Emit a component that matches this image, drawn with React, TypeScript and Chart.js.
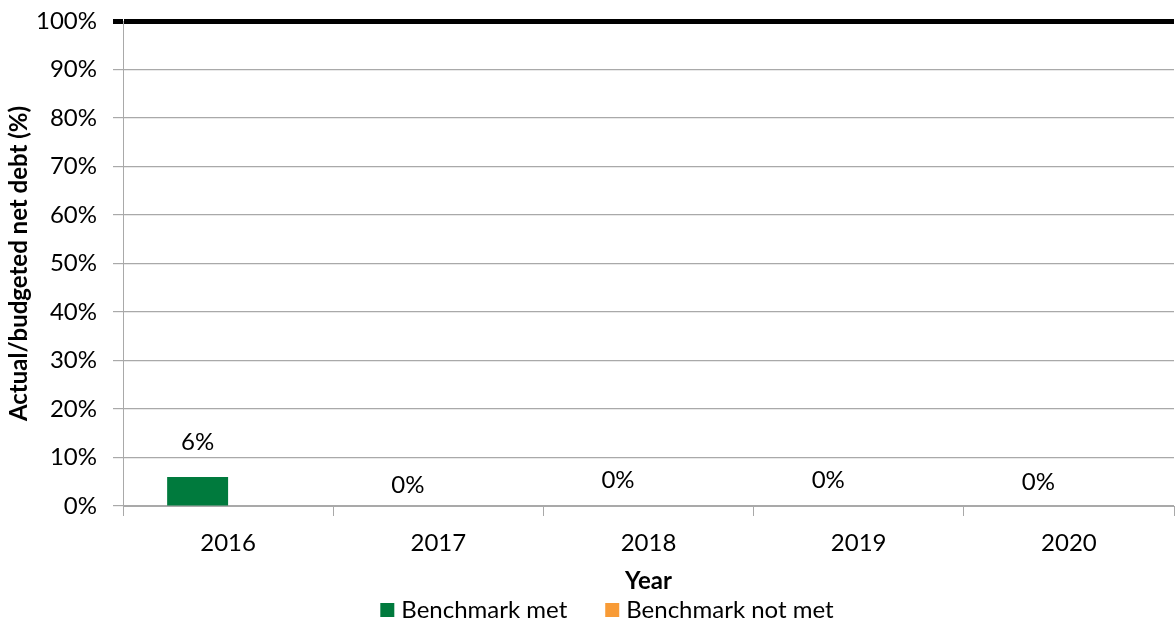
import React, { useEffect, useRef } from "react";
import { Chart, registerables } from "chart.js";

Chart.register(...registerables);

// Reporting years on the category axis
const years = ["2016", "2017", "2018", "2019", "2020"];
// Actual/budgeted net debt (%) by year, split by whether the benchmark was met
const benchmarkMet = [6, 0, 0, 0, 0];
const benchmarkNotMet: (number | null)[] = [null, null, null, null, null];
// Benchmark threshold drawn as the heavy rule across the top
const benchmarkLevel = 100;

const FONT = "Lato, 'Open Sans', sans-serif";
const GRID = "#a9a9a9";
const TEXT_SIZE = 24;

// Draws the value labels above the "Benchmark met" bars
const valueLabels = {
  id: "valueLabels",
  afterDatasetsDraw(chart: any, _args: any, opts: any) {
    const { ctx } = chart;
    const meta = chart.getDatasetMeta(0);
    const lifts: number[] = opts.lifts || [];
    ctx.save();
    ctx.font = `${TEXT_SIZE}px ${FONT}`;
    ctx.fillStyle = "#000";
    ctx.textAlign = "center";
    ctx.textBaseline = "middle";
    meta.data.forEach((bar: any, i: number) => {
      const v = benchmarkMet[i];
      if (v === null || v === undefined) return;
      ctx.fillText(`${v}%`, bar.x, bar.y - (lifts[i] ?? 26));
    });
    ctx.restore();
  },
};

// Compact legend row drawn under the axis title
const bottomLegend = {
  id: "bottomLegend",
  afterDraw(chart: any, _args: any, opts: any) {
    const { ctx } = chart;
    const box = 14;
    const boxGap = 7;
    const itemGap = opts.itemGap ?? 40;
    ctx.save();
    ctx.font = `${TEXT_SIZE}px ${FONT}`;
    ctx.textBaseline = "middle";
    ctx.textAlign = "left";
    const items = chart.data.datasets.map((d: any) => ({
      text: d.label as string,
      color: d.backgroundColor as string,
      w: ctx.measureText(d.label).width,
    }));
    const total =
      items.reduce((s: number, it: any) => s + box + boxGap + it.w, 0) + itemGap * (items.length - 1);
    let x = chart.width / 2 + (opts.shift ?? 0) - total / 2;
    const y = chart.height - (opts.fromBottom ?? 13);
    items.forEach((it: any) => {
      ctx.fillStyle = it.color;
      ctx.fillRect(x, y - box / 2, box, box);
      x += box + boxGap;
      ctx.fillStyle = "#000";
      ctx.fillText(it.text, x, y);
      x += it.w + itemGap;
    });
    ctx.restore();
  },
};

export default function App() {
  const ref = useRef<HTMLCanvasElement | null>(null);

  useEffect(() => {
    document.body.style.margin = "0";
    if (!ref.current) return;
    const chart = new Chart(ref.current, {
      type: "bar",
      data: {
        labels: years,
        datasets: [
          {
            label: "Benchmark met",
            data: benchmarkMet,
            backgroundColor: "#007a3d",
            borderWidth: 0,
            barPercentage: 1,
            categoryPercentage: 0.58,
          },
          {
            label: "Benchmark not met",
            data: benchmarkNotMet,
            backgroundColor: "#f89b36",
            borderWidth: 0,
            barPercentage: 1,
            categoryPercentage: 0.58,
          },
        ],
      },
      plugins: [valueLabels, bottomLegend],
      options: {
        animation: false,
        responsive: true,
        maintainAspectRatio: false,
        layout: { padding: { left: 0, right: 2, top: 21, bottom: 30 } },
        plugins: {
          tooltip: { enabled: false },
          legend: { display: false },
          valueLabels: { lifts: [35, 21, 26, 26, 24] },
          bottomLegend: { itemGap: 38, shift: 19, fromBottom: 13 },
        } as any,
        scales: {
          x: {
            grid: {
              offset: true,
              drawOnChartArea: false,
              drawTicks: true,
              tickLength: 10,
              color: GRID,
            },
            border: { color: GRID, width: 1 },
            ticks: {
              font: { family: FONT, size: TEXT_SIZE },
              color: "#000",
              padding: 13,
            },
            title: {
              display: true,
              text: "Year",
              font: { family: FONT, size: TEXT_SIZE, weight: "bold" },
              color: "#000",
              padding: { top: 4, bottom: -3 },
            },
            afterFit(scale: any) {
              scale.height = 87;
              scale.paddingLeft = 0;
              scale.paddingRight = 0;
            },
          },
          y: {
            min: 0,
            max: 100,
            grid: {
              drawTicks: true,
              tickLength: 10,
              color: (c: any) => (c.tick && c.tick.value === benchmarkLevel ? "#000" : GRID),
              lineWidth: (c: any) => (c.tick && c.tick.value === benchmarkLevel ? 5 : 1.2),
            },
            border: { color: GRID, width: 1 },
            ticks: {
              stepSize: 10,
              font: { family: FONT, size: TEXT_SIZE },
              color: "#000",
              padding: 16,
              callback: (v: any) => `${v}%`,
            },
            title: {
              display: true,
              text: "Actual/budgeted net debt (%)",
              font: { family: FONT, size: TEXT_SIZE, weight: "bold" },
              color: "#000",
              padding: { top: 5, bottom: 4 },
            },
            afterFit(scale: any) {
              scale.width = 123;
              scale.paddingTop = 0;
              scale.paddingBottom = 0;
            },
          },
        },
      },
    });
    return () => chart.destroy();
  }, []);

  return (
    <div style={{ position: "absolute", left: 0, top: 0, width: 1176, height: 623 }}>
      <canvas ref={ref} />
    </div>
  );
}
